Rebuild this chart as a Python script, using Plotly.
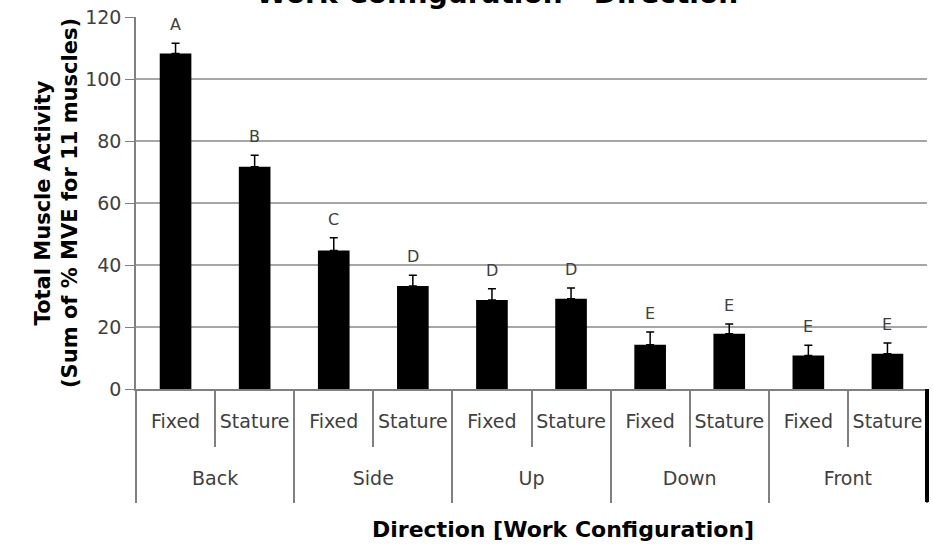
import plotly.graph_objects as go

directions = ["Back", "Back", "Side", "Side", "Up", "Up", "Down", "Down", "Front", "Front"]
configs = ["Fixed", "Stature"] * 5
activity = [108.2, 71.7, 44.7, 33.2, 28.7, 29.1, 14.3, 17.8, 10.8, 11.4]
errors = [3.3, 3.7, 4.1, 3.5, 3.6, 3.5, 4.1, 3.2, 3.3, 3.4]
letters = ["A", "B", "C", "D", "D", "D", "E", "E", "E", "E"]
y_ticks = [0, 20, 40, 60, 80, 100, 120]

FONT = "DejaVu Sans"
GRAY_TXT = "#404040"
AX_GRAY = "#808080"

bar_keys = [f"{d} {c}" for d, c in zip(directions, configs)]
groups = list(dict.fromkeys(directions))

fig = go.Figure()
fig.add_trace(go.Bar(
    x=bar_keys,
    y=activity,
    marker=dict(color="black", line=dict(width=0)),
    error_y=dict(type="data", symmetric=False, array=errors,
                 arrayminus=[0] * len(errors), color="black",
                 thickness=1.5, width=4),
    showlegend=False, hoverinfo="skip",
))
# invisible trace that defines the outer (direction) category axis
fig.add_trace(go.Scatter(
    x=groups, y=[0] * len(groups), xaxis="x2", mode="markers",
    marker=dict(opacity=0), showlegend=False, hoverinfo="skip",
))

for k, v, e, l in zip(bar_keys, activity, errors, letters):
    fig.add_annotation(x=k, y=v + e, xref="x", yref="y", text=l,
                       showarrow=False, yanchor="bottom", yshift=7,
                       font=dict(family=FONT, size=16, color=GRAY_TXT))

fig.add_annotation(text="<b>Work Configuration - Direction</b>",
                   xref="paper", yref="paper", x=0.456, y=1,
                   yanchor="bottom", yshift=5, showarrow=False,
                   font=dict(family=FONT, size=28, color="black"))

fig.add_annotation(text="<b>Direction [Work Configuration]</b>",
                   xref="paper", yref="paper", x=0.54, y=-0.379,
                   yanchor="middle", showarrow=False,
                   font=dict(family=FONT, size=22, color="black"))

fig.add_shape(type="line", xref="paper", yref="paper", x0=1, x1=1,
              y0=0, y1=-0.304, line=dict(color="black", width=4))

fig.update_layout(
    width=933, height=544,
    margin=dict(l=136, r=6, t=17, b=155),
    plot_bgcolor="white", paper_bgcolor="white",
    bargap=0.6,
    font=dict(family=FONT, color=GRAY_TXT),
    xaxis=dict(
        type="category", automargin=False,
        tickvals=bar_keys, ticktext=configs, tickangle=0,
        showline=True, linecolor=AX_GRAY, linewidth=1.5,
        ticks="outside", tickson="boundaries", ticklen=56,
        tickcolor=AX_GRAY, tickwidth=1.5,
        ticklabelstandoff=14,
        tickfont=dict(family=FONT, size=19, color=GRAY_TXT),
        showgrid=False,
    ),
    xaxis2=dict(
        type="category", overlaying="x", anchor="y", side="bottom",
        automargin=False, range=[-0.5, len(groups) - 0.5],
        categoryorder="array", categoryarray=groups, tickangle=0,
        ticks="outside", tickson="boundaries", ticklen=113,
        tickcolor=AX_GRAY, tickwidth=1.5,
        ticklabelstandoff=76,
        tickfont=dict(family=FONT, size=19, color=GRAY_TXT),
        showgrid=False, showline=False,
    ),
    yaxis=dict(
        range=[0, 120], tickvals=y_ticks, automargin=False,
        showgrid=True, gridcolor="#a6a6a6", gridwidth=1.5,
        showline=True, linecolor=AX_GRAY, linewidth=1.5,
        ticks="outside", ticklen=9, tickcolor=AX_GRAY,
        zeroline=False,
        tickfont=dict(family=FONT, size=19, color=GRAY_TXT),
        title=dict(text="<b>Total Muscle Activity<br>(Sum of % MVE for 11 muscles)</b>",
                   font=dict(family=FONT, size=21, color="black"), standoff=2),
    ),
)

fig.write_html("out.html", config={"displayModeBar": False},
               post_script="document.body.style.margin='0';")
